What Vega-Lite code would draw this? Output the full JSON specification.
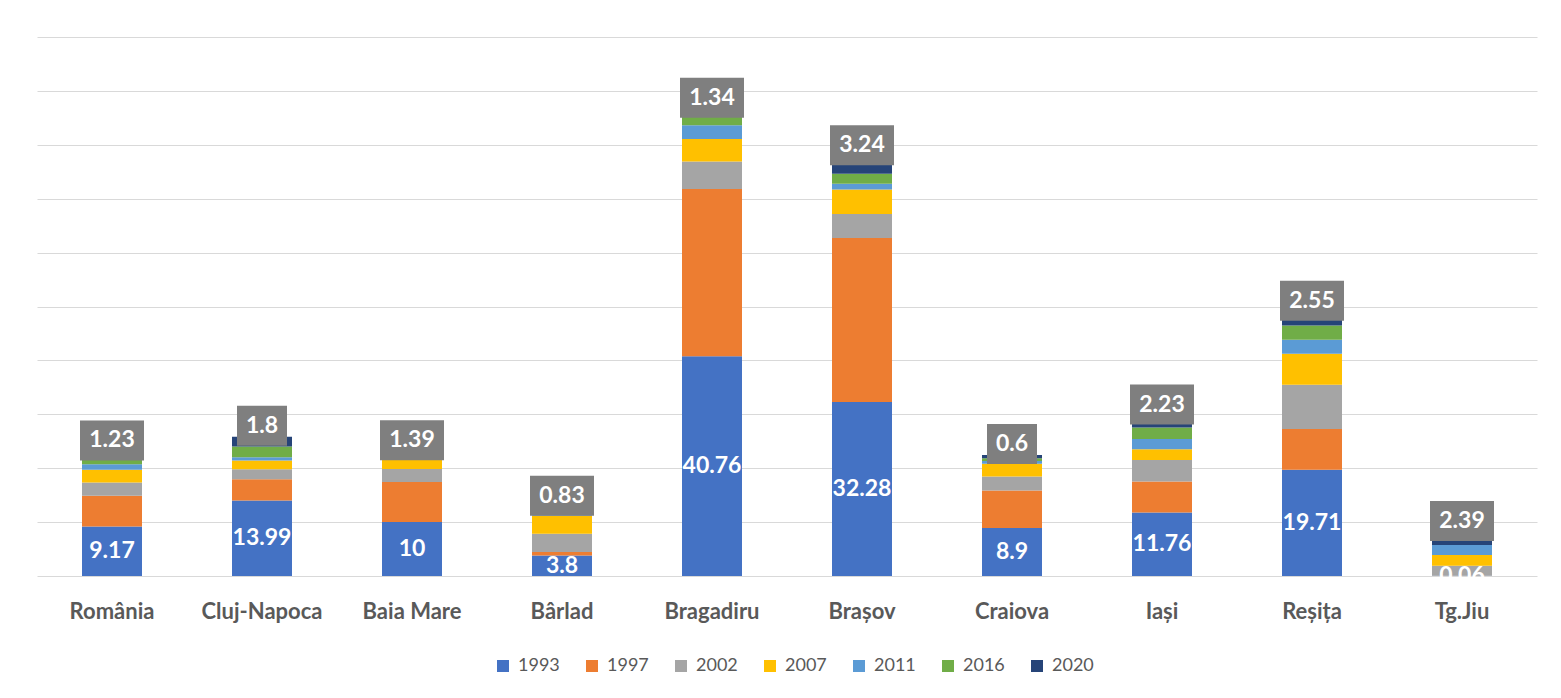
{
  "$schema": "https://vega.github.io/schema/vega-lite/v6.json",
  "autosize": "none",
  "width": 1500,
  "height": 539,
  "padding": {"left": 37, "top": 37, "right": 24, "bottom": 122},
  "background": "white",
  "config": {
    "font": "Lato",
    "view": {"stroke": null},
    "axis": {"gridColor": "#D9D9D9", "gridWidth": 1.2}
  },
  "data": {
    "values": [
      {"city": "România", "year": 1993, "value": 9.17},
      {"city": "România", "year": 1997, "value": 5.7},
      {"city": "România", "year": 2002, "value": 2.47},
      {"city": "România", "year": 2007, "value": 2.35},
      {"city": "România", "year": 2011, "value": 1.05},
      {"city": "România", "year": 2016, "value": 1.15},
      {"city": "România", "year": 2020, "value": 1.23},
      {"city": "Cluj-Napoca", "year": 1993, "value": 13.99},
      {"city": "Cluj-Napoca", "year": 1997, "value": 3.97},
      {"city": "Cluj-Napoca", "year": 2002, "value": 1.86},
      {"city": "Cluj-Napoca", "year": 2007, "value": 1.6},
      {"city": "Cluj-Napoca", "year": 2011, "value": 0.63},
      {"city": "Cluj-Napoca", "year": 2016, "value": 1.97},
      {"city": "Cluj-Napoca", "year": 2020, "value": 1.8},
      {"city": "Baia Mare", "year": 1993, "value": 10},
      {"city": "Baia Mare", "year": 1997, "value": 7.42},
      {"city": "Baia Mare", "year": 2002, "value": 2.41},
      {"city": "Baia Mare", "year": 2007, "value": 1.92},
      {"city": "Baia Mare", "year": 2011, "value": 0},
      {"city": "Baia Mare", "year": 2016, "value": 0},
      {"city": "Baia Mare", "year": 2020, "value": 1.39},
      {"city": "Bârlad", "year": 1993, "value": 3.8},
      {"city": "Bârlad", "year": 1997, "value": 0.63},
      {"city": "Bârlad", "year": 2002, "value": 3.4},
      {"city": "Bârlad", "year": 2007, "value": 3.34},
      {"city": "Bârlad", "year": 2011, "value": 0.45},
      {"city": "Bârlad", "year": 2016, "value": 0.39},
      {"city": "Bârlad", "year": 2020, "value": 0.83},
      {"city": "Bragadiru", "year": 1993, "value": 40.76},
      {"city": "Bragadiru", "year": 1997, "value": 31.06},
      {"city": "Bragadiru", "year": 2002, "value": 5.07},
      {"city": "Bragadiru", "year": 2007, "value": 4.2},
      {"city": "Bragadiru", "year": 2011, "value": 2.52},
      {"city": "Bragadiru", "year": 2016, "value": 1.76},
      {"city": "Bragadiru", "year": 2020, "value": 1.34},
      {"city": "Brașov", "year": 1993, "value": 32.28},
      {"city": "Brașov", "year": 1997, "value": 30.43},
      {"city": "Brașov", "year": 2002, "value": 4.45},
      {"city": "Brașov", "year": 2007, "value": 4.56},
      {"city": "Brașov", "year": 2011, "value": 1.06},
      {"city": "Brașov", "year": 2016, "value": 1.86},
      {"city": "Brașov", "year": 2020, "value": 3.24},
      {"city": "Craiova", "year": 1993, "value": 8.9},
      {"city": "Craiova", "year": 1997, "value": 6.98},
      {"city": "Craiova", "year": 2002, "value": 2.6},
      {"city": "Craiova", "year": 2007, "value": 2.36},
      {"city": "Craiova", "year": 2011, "value": 0.5},
      {"city": "Craiova", "year": 2016, "value": 0.52},
      {"city": "Craiova", "year": 2020, "value": 0.6},
      {"city": "Iași", "year": 1993, "value": 11.76},
      {"city": "Iași", "year": 1997, "value": 5.75},
      {"city": "Iași", "year": 2002, "value": 4.03},
      {"city": "Iași", "year": 2007, "value": 1.98},
      {"city": "Iași", "year": 2011, "value": 1.91},
      {"city": "Iași", "year": 2016, "value": 2.1},
      {"city": "Iași", "year": 2020, "value": 2.23},
      {"city": "Reșița", "year": 1993, "value": 19.71},
      {"city": "Reșița", "year": 1997, "value": 7.55},
      {"city": "Reșița", "year": 2002, "value": 8.22},
      {"city": "Reșița", "year": 2007, "value": 5.75},
      {"city": "Reșița", "year": 2011, "value": 2.6},
      {"city": "Reșița", "year": 2016, "value": 2.65},
      {"city": "Reșița", "year": 2020, "value": 2.55},
      {"city": "Tg.Jiu", "year": 1993, "value": 0.06},
      {"city": "Tg.Jiu", "year": 1997, "value": 0},
      {"city": "Tg.Jiu", "year": 2002, "value": 1.86},
      {"city": "Tg.Jiu", "year": 2007, "value": 1.98},
      {"city": "Tg.Jiu", "year": 2011, "value": 1.86},
      {"city": "Tg.Jiu", "year": 2016, "value": 0},
      {"city": "Tg.Jiu", "year": 2020, "value": 2.39}
    ]
  },
  "encoding": {
    "x": {
      "field": "city",
      "type": "nominal",
      "sort": null,
      "title": null,
      "scale": {"paddingInner": 0.6, "paddingOuter": 0.3},
      "axis": {
        "domain": false,
        "ticks": false,
        "labelAngle": 0,
        "labelFontSize": 22,
        "labelFontWeight": "bold",
        "labelColor": "#595959",
        "labelPadding": 25,
        "labelBaseline": "top"
      }
    },
    "y": {
      "field": "value",
      "type": "quantitative",
      "stack": "zero",
      "title": null,
      "scale": {"domain": [0, 100], "nice": false},
      "axis": {
        "values": [0, 10, 20, 30, 40, 50, 60, 70, 80, 90, 100],
        "labels": false,
        "ticks": false,
        "domain": false,
        "grid": true
      }
    },
    "order": {"field": "year", "type": "quantitative", "sort": "ascending"}
  },
  "layer": [
    {
      "mark": {"type": "bar"},
      "encoding": {
        "color": {
          "field": "year",
          "type": "nominal",
          "title": null,
          "scale": {
            "domain": [1993, 1997, 2002, 2007, 2011, 2016, 2020],
            "range": ["#4472C4", "#ED7D31", "#A5A5A5", "#FFC000", "#5B9BD5", "#70AD47", "#264478"]
          },
          "legend": {
            "orient": "none",
            "direction": "horizontal",
            "legendX": 457,
            "legendY": 620,
            "symbolType": "square",
            "symbolSize": 144,
            "symbolStrokeWidth": 0,
            "labelFontSize": 18,
            "labelColor": "#595959",
            "labelOffset": 6,
            "columnPadding": 23
          }
        }
      }
    },
    {
      "transform": [{"filter": "datum.year == 1993"}],
      "mark": {"type": "text", "color": "white", "fontWeight": "bold", "fontSize": 23, "baseline": "middle"},
      "encoding": {
        "y": {"field": "value", "type": "quantitative", "stack": "zero", "bandPosition": 0.5},
        "text": {"field": "value", "type": "nominal"}
      }
    },
    {
      "mark": {"type": "point", "filled": true, "size": 1600, "color": "#7F7F7F", "strokeWidth": 0, "yOffset": -11},
      "encoding": {
        "detail": {"field": "year", "type": "nominal"},
        "opacity": {"condition": {"test": "datum.year == 2020", "value": 1}, "value": 0},
        "shape": {"condition": {"test": "length(toString(datum.value)) <= 3", "value": "M-1.25,-1H1.25V1H-1.25Z"}, "value": "M-1.6,-1H1.6V1H-1.6Z"}
      }
    },
    {
      "mark": {"type": "text", "color": "white", "fontWeight": "bold", "fontSize": 23, "baseline": "middle", "yOffset": -11},
      "encoding": {
        "detail": {"field": "year", "type": "nominal"},
        "text": {"condition": {"test": "datum.year == 2020", "field": "value", "type": "nominal"}, "value": ""}
      }
    }
  ]
}
